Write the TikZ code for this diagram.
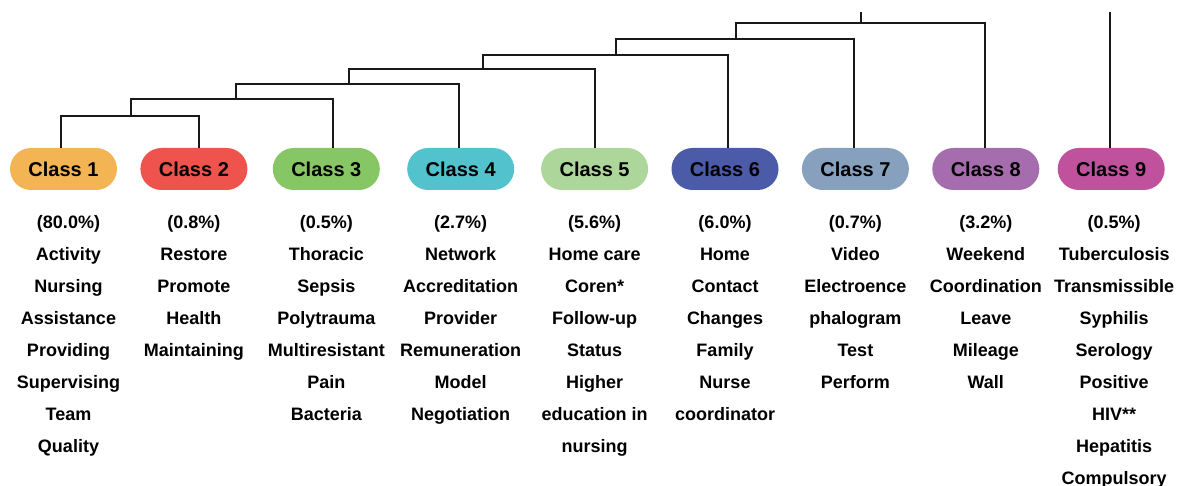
\documentclass[tikz,border=0pt]{standalone}
\usepackage{fontspec}
\setmainfont{Liberation Sans}
\usetikzlibrary{positioning}

\definecolor{classone}{HTML}{F3B553}
\definecolor{classtwo}{HTML}{EF534D}
\definecolor{classthree}{HTML}{86C665}
\definecolor{classfour}{HTML}{52C3CC}
\definecolor{classfive}{HTML}{ADD69B}
\definecolor{classsix}{HTML}{4B5BA8}
\definecolor{classseven}{HTML}{87A0BE}
\definecolor{classeight}{HTML}{A66DAE}
\definecolor{classnine}{HTML}{C0519D}

\begin{document}
\begin{tikzpicture}[
        class/.style={
                rectangle,
                rounded corners=21pt,
                text centered,
                minimum width=107pt,
                minimum height=42pt,
                font=\fontsize{20}{24}\selectfont\bfseries
            },
        words/.style={
                align=center,
                inner sep=0pt,
                font=\fontsize{18}{32}\selectfont\bfseries
            },
        link/.style={
                draw=black!90,
                line width=2pt
            }
    ]
    \useasboundingbox (0pt,0pt) rectangle (1178pt,-486pt);

    \node[class,fill=classone] (class1) at (63.5pt,-169pt) {Class 1};
    \node[class,fill=classtwo] (class2) [right=23pt of class1] {Class 2};
    \node[class,fill=classthree] (class3) [right=25pt of class2] {Class 3};
    \node[class,fill=classfour] (class4) [right=27pt of class3] {Class 4};
    \node[class,fill=classfive] (class5) [right=26.5pt of class4] {Class 5};
    \node[class,fill=classsix] (class6) [right=23pt of class5] {Class 6};
    \node[class,fill=classseven] (class7) [right=23pt of class6] {Class 7};
    \node[class,fill=classeight] (class8) [right=23pt of class7] {Class 8};
    \node[class,fill=classnine] (class9) [right=18pt of class8] {Class 9};

    \node[words,xshift=5pt] (words1) [below=25pt of class1] {(80.0\%)\\Activity\\Nursing\\Assistance\\Providing\\Supervising\\Team\\Quality};
    \node[words] (words2) [below=25pt of class2] {(0.8\%)\\Restore\\Promote\\Health\\Maintaining};
    \node[words] (words3) [below=25pt of class3] {(0.5\%)\\Thoracic\\Sepsis\\Polytrauma\\Multiresistant\\Pain\\Bacteria};
    \node[words] (words4) [below=25pt of class4] {(2.7\%)\\Network\\Accreditation\\Provider\\Remuneration\\Model\\Negotiation};
    \node[words] (words5) [below=25pt of class5] {(5.6\%)\\Home care\\Coren*\\Follow-up\\Status\\Higher\\education in\\nursing};
    \node[words] (words6) [below=25pt of class6] {(6.0\%)\\Home\\Contact\\Changes\\Family\\Nurse\\coordinator};
    \node[words] (words7) [below=25pt of class7] {(0.7\%)\\Video\\Electroence\\phalogram\\Test\\Perform};
    \node[words] (words8) [below=25pt of class8] {(3.2\%)\\Weekend\\Coordination\\Leave\\Mileage\\Wall};
    \node[words,xshift=3pt] (words9) [below=25pt of class9] {(0.5\%)\\Tuberculosis\\Transmissible\\Syphilis\\Serology\\Positive\\HIV**\\Hepatitis\\Compulsory};

    % leaves of the tree
    \coordinate (t1) at ([xshift=-2.5pt]class1.north);
    \coordinate (t2) at ([xshift=5.5pt]class2.north);
    \coordinate (t3) at ([xshift=6.5pt]class3.north);
    \coordinate (t4) at ([xshift=-1.5pt]class4.north);
    \coordinate (t5) at ([xshift=0.5pt]class5.north);
    \coordinate (t6) at ([xshift=2.5pt]class6.north);
    \coordinate (t7) at ([xshift=-1.5pt]class7.north);
    \coordinate (t8) at ([xshift=-0.5pt]class8.north);
    \coordinate (t9) at ([xshift=-1.5pt]class9.north);

    % merge points
    \coordinate (m2) at (131pt,-116pt);
    \coordinate (m3) at (236pt,-99pt);
    \coordinate (m4) at (349pt,-84pt);
    \coordinate (m5) at (483pt,-69pt);
    \coordinate (m6) at (616pt,-55pt);
    \coordinate (m7) at (736pt,-39pt);
    \coordinate (m8) at (861pt,-23pt);
    \coordinate (root8) at (861pt,-12pt);
    \coordinate (root9) at (t9 |- root8);

    \draw[link] (t1) |- (m2) -| (t2);
    \draw[link] (m2) |- (m3) -| (t3);
    \draw[link] (m3) |- (m4) -| (t4);
    \draw[link] (m4) |- (m5) -| (t5);
    \draw[link] (m5) |- (m6) -| (t6);
    \draw[link] (m6) |- (m7) -| (t7);
    \draw[link] (m7) |- (m8) -| (t8);
    \draw[link] (m8) -- (root8);
    \draw[link] (t9) -- (root9);
\end{tikzpicture}
\end{document}
